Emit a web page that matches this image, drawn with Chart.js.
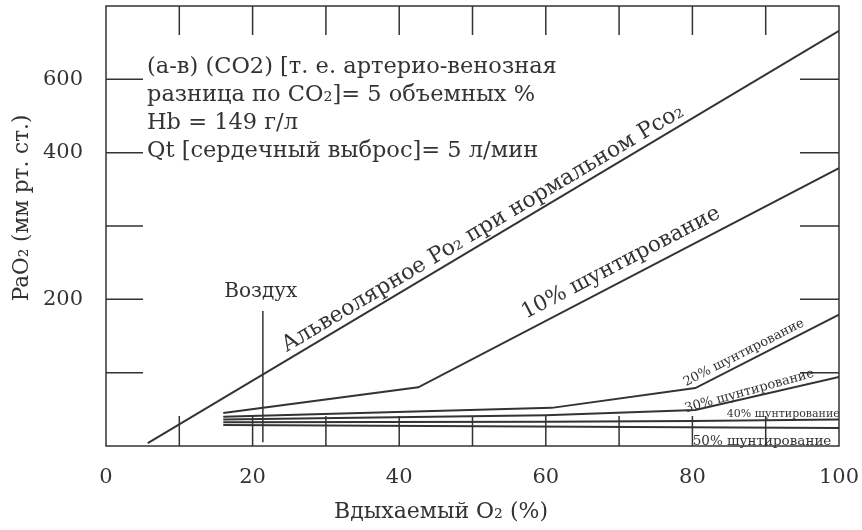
<!DOCTYPE html>
<html>
<head>
<meta charset="utf-8">
<script src="https://cdn.jsdelivr.net/npm/chart.js@4.4.1/dist/chart.umd.min.js"></script>
<style>
  html, body { margin: 0; padding: 0; background: #fff; }
  #wrap { width: 862px; height: 530px; }
</style>
</head>
<body>
<div id="wrap"><canvas id="shuntChart" width="862" height="530"></canvas></div>
<script>
// --- DATOS ---
// x = O2 inspirado (%), y = unidades del eje (una marca = 100)
const alvX = [5.7, 100];
const alvY = [4, 566];
const sh10X = [16, 42.6, 100];
const sh10Y = [45, 80, 379];
const sh20X = [16, 60.8, 80.4, 100];
const sh20Y = [40, 52, 79, 179];
const sh30X = [16, 60, 80.4, 100];
const sh30Y = [36, 42, 49, 94];
const sh40X = [16, 60, 80, 100];
const sh40Y = [32.5, 33, 34, 36];
const sh50X = [16, 100];
const sh50Y = [28.5, 24.5];
const airX = [21.4, 21.4];
const airY = [5, 184];

const xTicks = [0, 10, 20, 30, 40, 50, 60, 70, 80, 90, 100];
const xLabels = { 0: '0', 20: '20', 40: '40', 60: '60', 80: '80', 100: '100' };
const yTicks = [0, 100, 200, 300, 400, 500, 600];
const yLabels = { 200: '200', 400: '400', 500: '600' };

const infoLines = [
    '(а-в) (CO2) [т. е. артерио-венозная',
    'разница по CO₂]= 5 объемных %',
    'Hb = 149 г/л',
    'Qt [сердечный выброс]= 5 л/мин'
];
const xTitle = 'Вдыхаемый O₂ (%)';
const yTitle = 'PaO₂ (мм рт. ст.)';
const airLabel = 'Воздух';

const INK = '#333333';
const SERIF = '"DejaVu Serif", serif';

const pts = (xs, ys) => xs.map((x, i) => ({ x: x, y: ys[i] }));
const lineSet = (xs, ys) => ({
    data: pts(xs, ys), showLine: true, borderColor: INK, borderWidth: 2,
    pointRadius: 0, tension: 0, fill: false
});

// etiquetas a lo largo de las curvas
const curveLabels = [
    { text: 'Альвеолярное Po₂ при нормальном Pco₂', xs: alvX, ys: alvY, at: 52.3, off: 7, size: 22 },
    { text: '10% шунтирование', xs: sh10X, ys: sh10Y, at: 71.3, off: 11, size: 21.5 },
    { text: '20% шунтирование', xs: sh20X, ys: sh20Y, at: 87.6, off: 6, size: 13 },
    { text: '30% шунтирование', xs: sh30X, ys: sh30Y, at: 88, off: 3, size: 13, angle: 15.5 },
    { text: '40% шунтирование', xs: sh40X, ys: sh40Y, at: 92.4, off: 3, size: 11, angle: 0 },
    { text: '50% шунтирование', xs: sh50X, ys: sh50Y, at: 89.5, off: -17, size: 13.5, angle: 0 }
];

function pointOn(chart, xs, ys, xv) {
    const sx = chart.scales.x, sy = chart.scales.y;
    let i = 0;
    while (i < xs.length - 2 && xv > xs[i + 1]) i++;
    const t = (xv - xs[i]) / (xs[i + 1] - xs[i]);
    const yv = ys[i] + t * (ys[i + 1] - ys[i]);
    const x0 = sx.getPixelForValue(xs[i]), y0 = sy.getPixelForValue(ys[i]);
    const x1 = sx.getPixelForValue(xs[i + 1]), y1 = sy.getPixelForValue(ys[i + 1]);
    return { px: sx.getPixelForValue(xv), py: sy.getPixelForValue(yv), ang: Math.atan2(y1 - y0, x1 - x0) };
}

const decor = {
    id: 'decor',
    beforeDraw(chart) {
        const ctx = chart.ctx;
        ctx.save();
        ctx.fillStyle = '#fff';
        ctx.fillRect(0, 0, chart.width, chart.height);
        ctx.restore();
    },
    afterDraw(chart) {
        const ctx = chart.ctx;
        const a = chart.chartArea;
        const sx = chart.scales.x, sy = chart.scales.y;
        ctx.save();
        ctx.strokeStyle = INK;
        ctx.lineWidth = 1.5;
        ctx.strokeRect(a.left, a.top, a.right - a.left, a.bottom - a.top);

        // marcas interiores
        ctx.beginPath();
        xTicks.slice(1, -1).forEach(v => {
            const x = sx.getPixelForValue(v);
            ctx.moveTo(x, a.bottom); ctx.lineTo(x, a.bottom - 30);
            ctx.moveTo(x, a.top); ctx.lineTo(x, a.top + 29);
        });
        yTicks.slice(1, -1).forEach(v => {
            const y = sy.getPixelForValue(v);
            ctx.moveTo(a.left, y); ctx.lineTo(a.left + 37, y);
            ctx.moveTo(a.right, y); ctx.lineTo(a.right - 39, y);
        });
        ctx.stroke();

        ctx.fillStyle = INK;
        // bloque de texto
        ctx.font = '22.5px ' + SERIF;
        ctx.textAlign = 'left';
        ctx.textBaseline = 'alphabetic';
        infoLines.forEach((t, i) => ctx.fillText(t, 147, 73 + i * 28));

        // titulos de ejes
        ctx.textAlign = 'center';
        ctx.font = '22px ' + SERIF;
        ctx.textBaseline = 'middle';
        ctx.fillText(xTitle, 441, 512);
        ctx.save();
        ctx.translate(22, 208);
        ctx.rotate(-Math.PI / 2);
        ctx.font = '21.5px ' + SERIF;
        ctx.fillText(yTitle, 0, 0);
        ctx.restore();

        // Воздух
        ctx.textBaseline = 'alphabetic';
        ctx.font = '20px ' + SERIF;
        ctx.fillText(airLabel, sx.getPixelForValue(airX[1]) - 2, sy.getPixelForValue(airY[1]) - 14);

        // etiquetas de curvas
        curveLabels.forEach(l => {
            const p = pointOn(chart, l.xs, l.ys, l.at);
            const ang = l.angle !== undefined ? -l.angle * Math.PI / 180 : p.ang;
            ctx.save();
            ctx.translate(p.px, p.py);
            ctx.rotate(ang);
            ctx.font = l.size + 'px ' + SERIF;
            ctx.textAlign = 'center';
            ctx.fillText(l.text, 0, -l.off);
            ctx.restore();
        });
        ctx.restore();
    }
};

const ctx = document.getElementById('shuntChart').getContext('2d');
new Chart(ctx, {
    type: 'scatter',
    data: {
        datasets: [
            lineSet(alvX, alvY),
            lineSet(sh10X, sh10Y),
            lineSet(sh20X, sh20Y),
            lineSet(sh30X, sh30Y),
            lineSet(sh40X, sh40Y),
            lineSet(sh50X, sh50Y),
            Object.assign(lineSet(airX, airY), { borderWidth: 1.5 })
        ]
    },
    options: {
        responsive: false,
        devicePixelRatio: 1,
        animation: false,
        layout: { padding: { top: 6, right: 23, left: 0, bottom: 0 } },
        plugins: { legend: { display: false }, tooltip: { enabled: false } },
        scales: {
            x: {
                type: 'linear', min: 0, max: 100,
                afterBuildTicks: s => { s.ticks = xTicks.map(v => ({ value: v })); },
                ticks: {
                    autoSkip: false, maxRotation: 0, padding: 19, color: INK,
                    font: { family: SERIF, size: 21 },
                    callback: v => xLabels[v] || ''
                },
                grid: { display: false, drawTicks: false },
                border: { display: false },
                afterFit: s => { s.height = 84; s.paddingLeft = 0; s.paddingRight = 0; }
            },
            y: {
                type: 'linear', min: 0, max: 600,
                afterBuildTicks: s => { s.ticks = yTicks.map(v => ({ value: v })); },
                ticks: {
                    autoSkip: false, padding: 23, color: INK,
                    font: { family: SERIF, size: 21 },
                    callback: v => yLabels[v] || ''
                },
                grid: { display: false, drawTicks: false },
                border: { display: false },
                afterFit: s => { s.width = 106; s.paddingTop = 0; s.paddingBottom = 0; }
            }
        }
    },
    plugins: [decor]
});
</script>
</body>
</html>
